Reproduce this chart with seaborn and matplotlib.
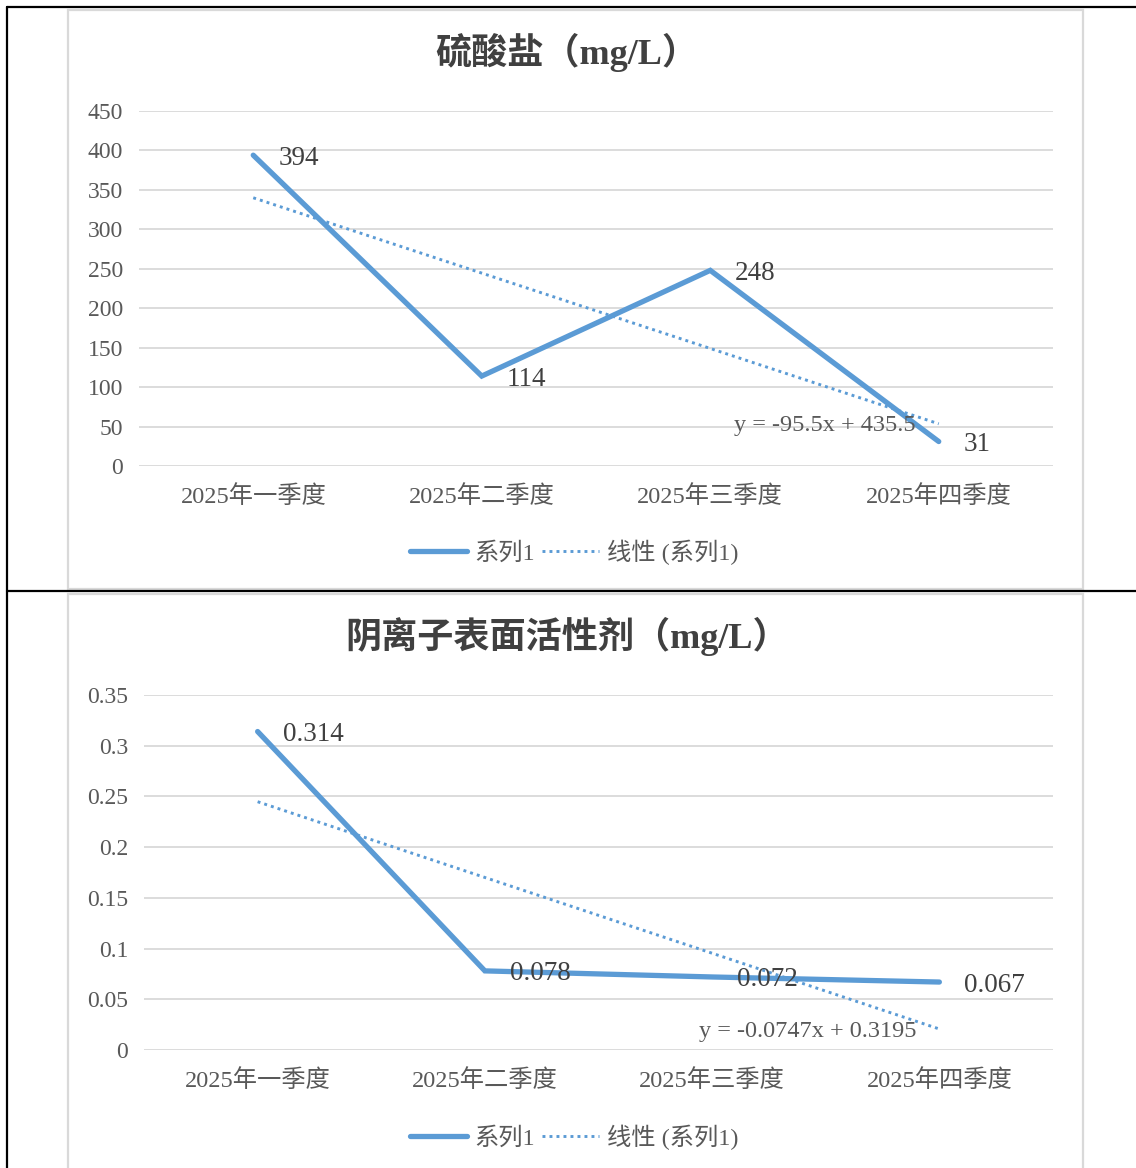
import numpy as np
import matplotlib
matplotlib.use("Agg")
import matplotlib.pyplot as plt
import seaborn as sns
from matplotlib.lines import Line2D
from matplotlib.patches import Rectangle

quarters = ['2025年一季度', '2025年二季度', '2025年三季度', '2025年四季度']
sulfate = [394, 114, 248, 31]
surfactant = [0.314, 0.078, 0.072, 0.067]
titles = ['硫酸盐（mg/L）', '阴离子表面活性剂（mg/L）']
series_name = '系列1'
trend_name = '线性 (系列1)'

sns.set_theme(style='white')
plt.rcParams['font.family'] = ['Liberation Serif', 'Noto Sans CJK SC']

blue = '#5B9BD5'
grid_c = '#D9D9D9'
txt_c = '#595959'
lab_c = '#404040'
dots = (0, (1, 1.4))

fig = plt.figure(figsize=(11.36, 11.68), dpi=100)
W, H = 1136, 1168


def fx(px):
    return px / W


def fy(py):
    return 1 - py / H


# table frame lines (black)
for (x0, y0, x1, y1) in [(7, 7, 1136, 7), (7, 7, 7, 1168), (7, 591, 1136, 591)]:
    fig.add_artist(Line2D([fx(x0), fx(x1)], [fy(y0), fy(y1)], color='black', lw=1.6))

# chart area borders
for (top, bot) in [(10, 589), (594, 1172)]:
    fig.add_artist(Rectangle((fx(68), fy(bot)), fx(1083) - fx(68), fy(top) - fy(bot),
                             fill=False, edgecolor=grid_c, lw=1.6))

panels = [
    dict(vals=sulfate, left=139, top=111, bot=466, ymax=450, step=50, title_y=52, leg_y=552),
    dict(vals=surfactant, left=144, top=695, bot=1050, ymax=0.35, step=0.05, title_y=636, leg_y=1137),
]

x = np.arange(len(quarters))

for p, title in zip(panels, titles):
    ax = fig.add_axes([fx(p['left']), fy(p['bot']), fx(1053) - fx(p['left']), (p['bot'] - p['top']) / H])
    vals = np.array(p['vals'])
    slope, icpt = np.polyfit(x + 1, vals, 1)
    trend = slope * (x + 1) + icpt

    sns.lineplot(x=x, y=trend, ax=ax, color=blue, lw=2.1, linestyle=dots, zorder=3)
    sns.lineplot(x=x, y=vals, ax=ax, color=blue, lw=3.8, zorder=4,
                 solid_capstyle='round', solid_joinstyle='miter')

    for xi, v in zip(x, vals):
        ax.annotate(f"{v:g}", (xi, v), xytext=(25, -3), textcoords='offset pixels',
                    ha='left', va='center', fontsize=19.5, color=lab_c, zorder=5)
    ax.annotate(f"y = {slope:.4g}x + {icpt:.4g}", (x[-1], trend[-1]), xytext=(-23, -2),
                textcoords='offset pixels', ha='right', va='center', fontsize=17.5,
                color=txt_c, zorder=5)

    ax.set_xlim(-0.5, len(quarters) - 0.5)
    ax.set_ylim(0, p['ymax'])
    ticks = np.round(np.arange(0, p['ymax'] + p['step'] / 2, p['step']), 4)
    ax.set_yticks(ticks)
    ax.set_yticklabels([f"{t:g}" for t in ticks])
    ax.set_xticks(x)
    ax.set_xticklabels(quarters)
    ax.tick_params(axis='y', length=0, pad=11.5, labelsize=17, labelcolor=txt_c)
    ax.tick_params(axis='x', length=0, pad=14, labelsize=17.5, labelcolor=txt_c)
    ax.grid(axis='y', color=grid_c, lw=1.3)
    ax.grid(axis='x', visible=False)
    for s in ax.spines.values():
        s.set_visible(False)
    ax.set_facecolor('none')
    ax.set_xlabel('')
    ax.set_ylabel('')

    fig.text(fx(567), fy(p['title_y']), title, ha='center', va='center', fontsize=26,
             fontweight='bold', color=lab_c)

    handles = [Line2D([], [], color=blue, lw=3.8, solid_capstyle='round'),
               Line2D([], [], color=blue, lw=2.1, linestyle=dots)]
    fig.legend(handles, [series_name, trend_name], loc='center',
               bbox_to_anchor=(fx(574), fy(p['leg_y'])), ncol=2, frameon=False,
               fontsize=17.5, labelcolor=txt_c, handlelength=2.35, handletextpad=0.3,
               columnspacing=0.3)

fig.savefig('out.png', dpi=100, facecolor='white')
